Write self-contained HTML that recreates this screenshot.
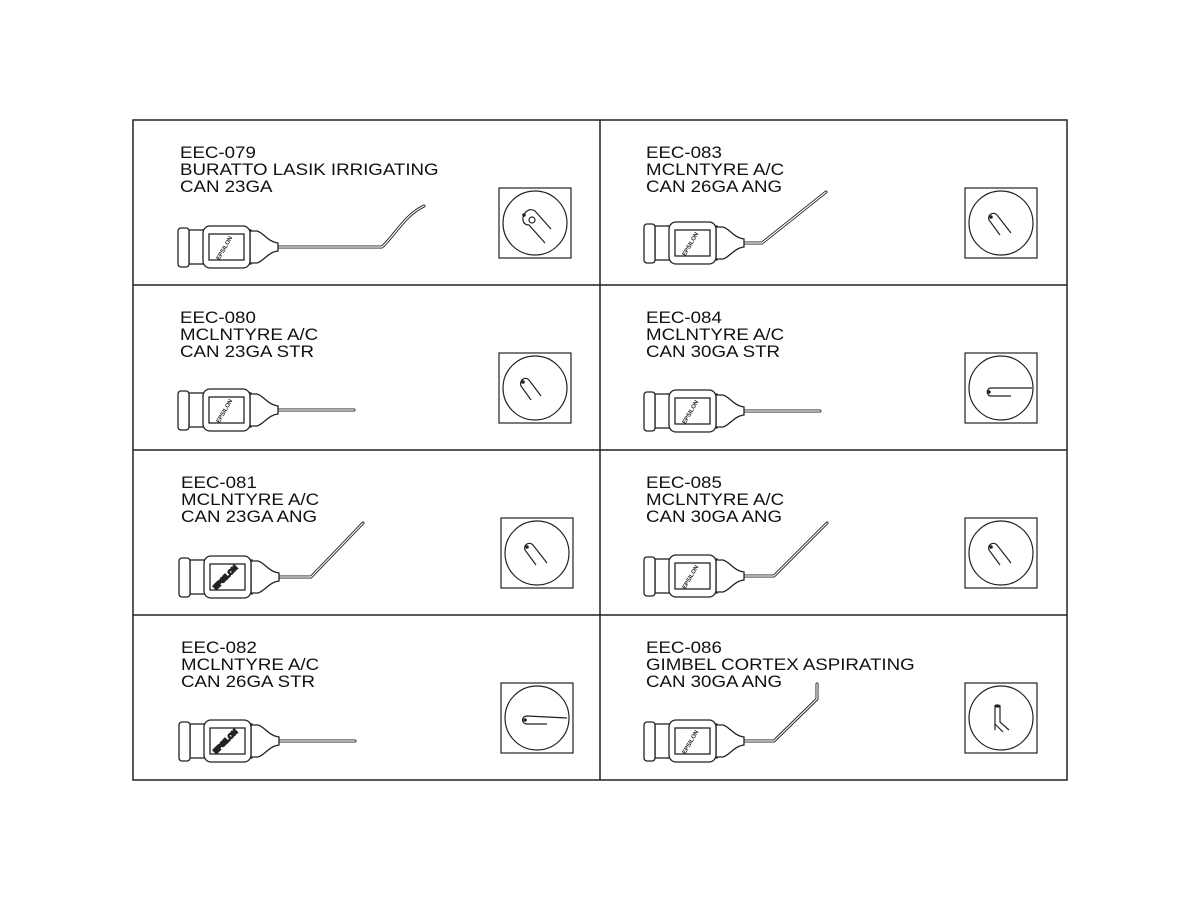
<!DOCTYPE html>
<html><head><meta charset="utf-8"><style>
html,body{margin:0;padding:0;background:#fff;}
svg{display:block;}
text{font-family:"Liberation Sans",sans-serif;}
</style></head><body>
<svg width="1200" height="900" viewBox="0 0 1200 900" xmlns="http://www.w3.org/2000/svg">
<rect width="1200" height="900" fill="#fff"/>
<g fill="none" stroke="#222" stroke-width="1.5">
<rect x="133" y="120" width="934" height="660"/>
<line x1="600" y1="120" x2="600" y2="780"/>
<line x1="133" y1="285" x2="1067" y2="285"/>
<line x1="133" y1="450" x2="1067" y2="450"/>
<line x1="133" y1="615" x2="1067" y2="615"/>
</g>

<g font-size="17" fill="#111">
<g transform="translate(180,0) scale(1.1,1)"><text x="0" y="158">EEC-079</text><text x="0" y="175">BURATTO LASIK IRRIGATING</text><text x="0" y="192">CAN 23GA</text>
<text x="0" y="323">EEC-080</text><text x="0" y="340">MCLNTYRE A/C</text><text x="0" y="357">CAN 23GA STR</text></g>
<g transform="translate(181,0) scale(1.1,1)"><text x="0" y="488">EEC-081</text><text x="0" y="505">MCLNTYRE A/C</text><text x="0" y="522">CAN 23GA ANG</text>
<text x="0" y="653">EEC-082</text><text x="0" y="670">MCLNTYRE A/C</text><text x="0" y="687">CAN 26GA STR</text></g>
<g transform="translate(646,0) scale(1.1,1)"><text x="0" y="158">EEC-083</text><text x="0" y="175">MCLNTYRE A/C</text><text x="0" y="192">CAN 26GA ANG</text>
<text x="0" y="323">EEC-084</text><text x="0" y="340">MCLNTYRE A/C</text><text x="0" y="357">CAN 30GA STR</text>
<text x="0" y="488">EEC-085</text><text x="0" y="505">MCLNTYRE A/C</text><text x="0" y="522">CAN 30GA ANG</text>
<text x="0" y="653">EEC-086</text><text x="0" y="670">GIMBEL CORTEX ASPIRATING</text><text x="0" y="687">CAN 30GA ANG</text></g>
</g>

<g fill="none" stroke-linejoin="round" stroke-linecap="round">
<g stroke="#222" stroke-width="3">
<path d="M270,247 L382,247 C395,235 405,215 424,206"/>
<path d="M270,410 L354,410"/>
<path d="M270,577 L311,577 L363,523"/>
<path d="M270,741 L355,741"/>
<path d="M736,243 L762,243 L826,192"/>
<path d="M736,411 L820,411"/>
<path d="M736,576 L774,576 L827,523"/>
<path d="M736,741 L774,741 L817,699 L817,684"/>
</g>
<g stroke="#fff" stroke-width="1.2">
<path d="M270,247 L382,247 C395,235 405,215 424,206"/>
<path d="M270,410 L354,410"/>
<path d="M270,577 L311,577 L363,523"/>
<path d="M270,741 L355,741"/>
<path d="M736,243 L762,243 L826,192"/>
<path d="M736,411 L820,411"/>
<path d="M736,576 L774,576 L827,523"/>
<path d="M736,741 L774,741 L817,699 L817,684"/>
</g>
</g>

<g fill="#fff" stroke="#222" stroke-width="1.3">
<g transform="translate(178,247)">
<rect x="11" y="-17" width="62" height="34"/><rect x="0" y="-19" width="11" height="39" rx="3"/>
<path d="M72,-16 L79,-16 C86,-14 90,-5 100,-4 L100,4 C90,5 86,14 79,16 L72,16Z"/>
<rect x="25" y="-21" width="47" height="42" rx="7"/><rect x="31" y="-13" width="35" height="26"/>
<text x="0" y="0" transform="translate(48,2) rotate(-60)" font-size="6" font-weight="bold" text-anchor="middle" fill="#222" stroke="none">EPSILON</text></g>
<g transform="translate(178,410)">
<rect x="11" y="-17" width="62" height="34"/><rect x="0" y="-19" width="11" height="39" rx="3"/>
<path d="M72,-16 L79,-16 C86,-14 90,-5 100,-4 L100,4 C90,5 86,14 79,16 L72,16Z"/>
<rect x="25" y="-21" width="47" height="42" rx="7"/><rect x="31" y="-13" width="35" height="26"/>
<text x="0" y="0" transform="translate(48,2) rotate(-60)" font-size="6" font-weight="bold" text-anchor="middle" fill="#222" stroke="none">EPSILON</text></g>
<g transform="translate(179,577)">
<rect x="11" y="-17" width="62" height="34"/><rect x="0" y="-19" width="11" height="39" rx="3"/>
<path d="M72,-16 L79,-16 C86,-14 90,-5 100,-4 L100,4 C90,5 86,14 79,16 L72,16Z"/>
<rect x="25" y="-21" width="47" height="42" rx="7"/><rect x="31" y="-13" width="35" height="26"/>
<text x="0" y="0" transform="translate(48,2) rotate(-45)" font-size="7" font-weight="bold" text-anchor="middle" fill="#222" stroke="#222" stroke-width="1.5">EPSILON</text></g>
<g transform="translate(179,741)">
<rect x="11" y="-17" width="62" height="34"/><rect x="0" y="-19" width="11" height="39" rx="3"/>
<path d="M72,-16 L79,-16 C86,-14 90,-5 100,-4 L100,4 C90,5 86,14 79,16 L72,16Z"/>
<rect x="25" y="-21" width="47" height="42" rx="7"/><rect x="31" y="-13" width="35" height="26"/>
<text x="0" y="0" transform="translate(48,2) rotate(-45)" font-size="7" font-weight="bold" text-anchor="middle" fill="#222" stroke="#222" stroke-width="1.5">EPSILON</text></g>
<g transform="translate(644,243)">
<rect x="11" y="-17" width="62" height="34"/><rect x="0" y="-19" width="11" height="39" rx="3"/>
<path d="M72,-16 L79,-16 C86,-14 90,-5 100,-4 L100,4 C90,5 86,14 79,16 L72,16Z"/>
<rect x="25" y="-21" width="47" height="42" rx="7"/><rect x="31" y="-13" width="35" height="26"/>
<text x="0" y="0" transform="translate(48,2) rotate(-60)" font-size="6" font-weight="bold" text-anchor="middle" fill="#222" stroke="none">EPSILON</text></g>
<g transform="translate(644,411)">
<rect x="11" y="-17" width="62" height="34"/><rect x="0" y="-19" width="11" height="39" rx="3"/>
<path d="M72,-16 L79,-16 C86,-14 90,-5 100,-4 L100,4 C90,5 86,14 79,16 L72,16Z"/>
<rect x="25" y="-21" width="47" height="42" rx="7"/><rect x="31" y="-13" width="35" height="26"/>
<text x="0" y="0" transform="translate(48,2) rotate(-60)" font-size="6" font-weight="bold" text-anchor="middle" fill="#222" stroke="none">EPSILON</text></g>
<g transform="translate(644,576)">
<rect x="11" y="-17" width="62" height="34"/><rect x="0" y="-19" width="11" height="39" rx="3"/>
<path d="M72,-16 L79,-16 C86,-14 90,-5 100,-4 L100,4 C90,5 86,14 79,16 L72,16Z"/>
<rect x="25" y="-21" width="47" height="42" rx="7"/><rect x="31" y="-13" width="35" height="26"/>
<text x="0" y="0" transform="translate(48,2) rotate(-60)" font-size="6" font-weight="bold" text-anchor="middle" fill="#222" stroke="none">EPSILON</text></g>
<g transform="translate(644,741)">
<rect x="11" y="-17" width="62" height="34"/><rect x="0" y="-19" width="11" height="39" rx="3"/>
<path d="M72,-16 L79,-16 C86,-14 90,-5 100,-4 L100,4 C90,5 86,14 79,16 L72,16Z"/>
<rect x="25" y="-21" width="47" height="42" rx="7"/><rect x="31" y="-13" width="35" height="26"/>
<text x="0" y="0" transform="translate(48,2) rotate(-60)" font-size="6" font-weight="bold" text-anchor="middle" fill="#222" stroke="none">EPSILON</text></g>
</g>

<g fill="none" stroke="#222" stroke-width="1.2">
<g transform="translate(535,223)"><rect x="-36" y="-35" width="72" height="70"/><circle r="32"/>
<path d="M-10,-10 C-14,-4 -12,2 -6,2 L10,20 M0,-12 L16,6 M-10,-10 C-7,-14 -3,-14 0,-12"/><circle cx="-3" cy="-3" r="3"/><circle cx="-11" cy="-8" r="1.2" fill="#222"/></g>
<g transform="translate(535,388)"><rect x="-36" y="-35" width="72" height="70"/><circle r="32"/>
<path d="M-4,12 L-14,-2 C-16,-8 -10,-12 -6,-8 L6,8"/><circle cx="-12" cy="-6" r="1.2" fill="#222"/></g>
<g transform="translate(537,553)"><rect x="-36" y="-35" width="72" height="70"/><circle r="32"/>
<path d="M-1,12 L-12,-3 C-14,-8 -8,-12 -4,-8 L10,10"/><circle cx="-10" cy="-6" r="1.2" fill="#222"/></g>
<g transform="translate(537,718)"><rect x="-36" y="-35" width="72" height="70"/><circle r="32"/>
<path d="M30,0 L-10,-2 C-16,-2 -16,6 -10,6 L10,6"/><circle cx="-12" cy="2" r="1.2" fill="#222"/></g>
<g transform="translate(1001,223)"><rect x="-36" y="-35" width="72" height="70"/><circle r="32"/>
<path d="M-1,12 L-12,-3 C-14,-8 -8,-12 -4,-8 L10,10"/><circle cx="-10" cy="-6" r="1.2" fill="#222"/></g>
<g transform="translate(1001,388)"><rect x="-36" y="-35" width="72" height="70"/><circle r="32"/>
<path d="M31,0 L-10,0 C-15,0 -15,8 -10,8 L10,8"/><circle cx="-12" cy="4" r="1.2" fill="#222"/></g>
<g transform="translate(1001,553)"><rect x="-36" y="-35" width="72" height="70"/><circle r="32"/>
<path d="M-1,12 L-12,-3 C-14,-8 -8,-12 -4,-8 L10,10"/><circle cx="-10" cy="-6" r="1.2" fill="#222"/></g>
<g transform="translate(1001,718)"><rect x="-36" y="-35" width="72" height="70"/><circle r="32"/>
<path d="M-6,12 L-6,-12 L-1,-12 L-1,4 L8,12 M-6,6 L2,14"/><ellipse cx="-3.5" cy="-12" rx="2.5" ry="1" fill="#222"/></g>
</g>
</svg>
</body></html>
